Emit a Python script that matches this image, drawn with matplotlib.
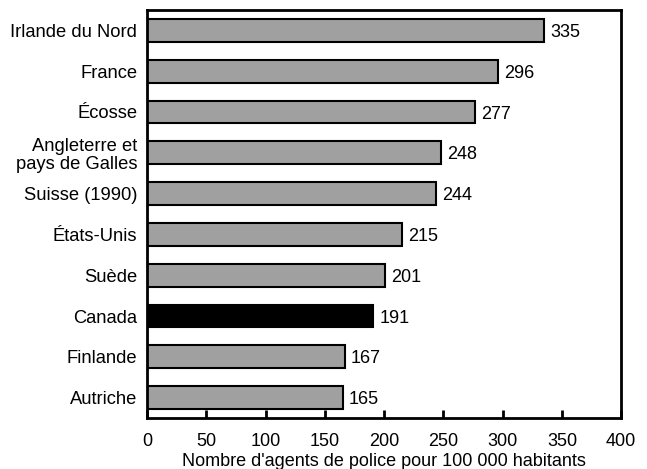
import matplotlib.pyplot as plt

plt.rcParams['font.family'] = ['Liberation Sans', 'DejaVu Sans']

# Police officers per 100,000 inhabitants
pays = ["Irlande du Nord", "France", "Écosse", "Angleterre et\npays de Galles",
        "Suisse (1990)", "États-Unis", "Suède", "Canada", "Finlande", "Autriche"]
agents = [335, 296, 277, 248, 244, 215, 201, 191, 167, 165]
couleurs = ["#a0a0a0"] * 7 + ["#000000"] + ["#a0a0a0"] * 2
xticks = [0, 50, 100, 150, 200, 250, 300, 350, 400]

fig = plt.figure(figsize=(6.47, 4.69), dpi=100)
ax = fig.add_axes([0.2272, 0.1087, 0.733, 0.8700])

y = list(range(len(pays)))
ax.barh(y, agents, height=0.56, color=couleurs, edgecolor="black", linewidth=1.5)
for yi, v in zip(y, agents):
    ax.text(v + 5, yi + 0.05, str(v), va="center", ha="left", fontsize=13)

ax.set_ylim(len(pays) - 0.5, -0.5)
ax.set_xlim(0, 400)
ax.set_yticks(y)
ax.set_yticklabels(pays, fontsize=13.2, linespacing=1.1)
ax.tick_params(axis="y", length=0, pad=7)
ax.set_xticks(xticks)
ax.tick_params(axis="x", direction="in", length=6, width=2, labelsize=13, pad=11)
ax.set_xlabel("Nombre d'agents de police pour 100 000 habitants", fontsize=13, labelpad=2)
for s in ax.spines.values():
    s.set_linewidth(2)

fig.savefig("out.png", dpi=100)
